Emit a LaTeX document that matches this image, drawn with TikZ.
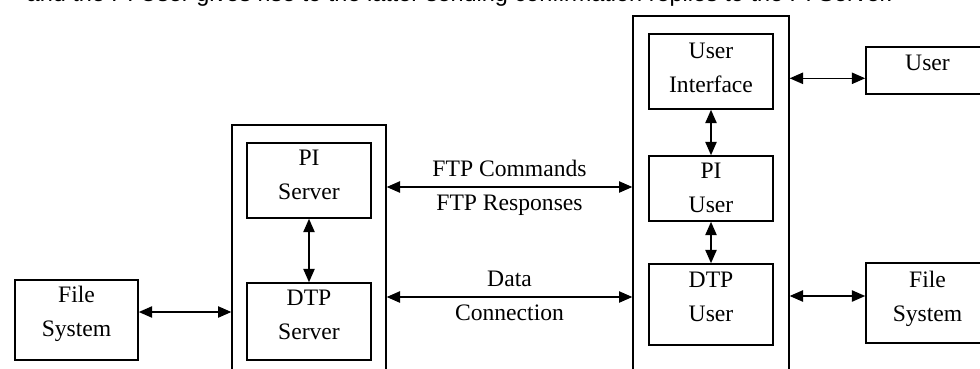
\documentclass[tikz,border=0pt]{standalone}
\usepackage{fontspec}
\setmainfont{Liberation Serif}
\newfontfamily\captionfont{Liberation Sans}
\usetikzlibrary{arrows.meta}

\begin{document}
\begin{tikzpicture}[x=0.75pt,y=-0.75pt,
  font=\fontsize{17.7}{25.5}\selectfont,
  >={Triangle[length=10pt,width=8.5pt]},
  box/.style={draw,line width=1.2pt,align=center,text depth=9pt,inner sep=0pt},
  outer/.style={draw,line width=1pt,inner sep=0pt},
  lbl/.style={inner sep=0pt}]
  \useasboundingbox (0,0) rectangle (980,368);
  \clip (0,0) rectangle (980,368);
  \node[anchor=base west,font=\captionfont\fontsize{17.6}{21}\selectfont] (caption) at (22,1.5)
    {and the PI User gives rise to the latter sending confirmation replies to the PI Server.};

  \node[outer,minimum width=115.5pt,minimum height=195pt] (server) at (309,255) {};
  \node[outer,minimum width=117pt,minimum height=276.75pt] (client) at (711,200.5) {};

  \node[box,minimum width=93pt,minimum height=56.25pt,text depth=8.25pt] (pis) at (309,180.5) {PI\\Server};
  \node[box,minimum width=93pt,minimum height=57.75pt,text depth=9.75pt] (dts) at (309,321.5) {DTP\\Server};
  \node[box,minimum width=93pt,minimum height=56.25pt,text depth=6pt] (ui) at (711,71.5) {User\\Interface};
  \node[box,minimum width=93pt,minimum height=48.75pt,text depth=1.5pt] (piu) at (711,188.5) {PI\\User};
  \node[box,minimum width=93pt,minimum height=60.75pt,text depth=12pt] (dtu) at (711,304.5) {DTP\\User};
  \node[box,minimum width=92.25pt,minimum height=60pt,text depth=12.75pt] (fsl) at (76.5,320) {File\\System};
  \node[box,minimum width=92.25pt,minimum height=35.25pt,text depth=11.25pt] (user) at (927.5,70.5) {User};
  \node[box,minimum width=92.25pt,minimum height=60pt,text depth=9.75pt] (fsr) at (927.5,303) {File\\System};

  \coordinate (ftp) at (510,187);
  \coordinate (data) at (510,297);

  \path[<->,line width=1pt]
    (pis) edge (dts)
    (ui) edge (piu)
    (piu) edge (dtu)
    ([yshift=6pt]fsl.east) edge ([yshift=6pt]fsl.east -| server.west)
    ([yshift=-5.85pt]user.west -| client.east) edge ([yshift=-5.85pt]user.west)
    ([yshift=5.25pt]fsr.west -| client.east) edge ([yshift=5.25pt]fsr.west)
    (server.east |- ftp) edge node[lbl,above=7.5pt] {FTP Commands} node[lbl,below=5.5pt] {FTP Responses} (client.west |- ftp)
    (server.east |- data) edge node[lbl,above=7.5pt] {Data} node[lbl,below=5.5pt] {Connection} (client.west |- data);
\end{tikzpicture}
\end{document}
